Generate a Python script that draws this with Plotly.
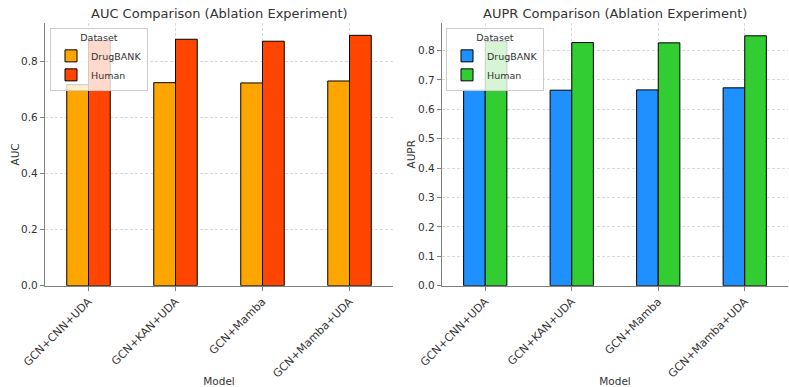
import plotly.graph_objects as go

models = ["GCN+CNN+UDA", "GCN+KAN+UDA", "GCN+Mamba", "GCN+Mamba+UDA"]
auc_drugbank = [0.718, 0.725, 0.724, 0.731]
auc_human = [0.875, 0.880, 0.873, 0.894]
aupr_drugbank = [0.665, 0.665, 0.666, 0.673]
aupr_human = [0.831, 0.827, 0.826, 0.850]
auc_ticks = [0.0, 0.2, 0.4, 0.6, 0.8]
aupr_ticks = [0.0, 0.1, 0.2, 0.3, 0.4, 0.5, 0.6, 0.7, 0.8]

W, H = 789, 387
FONT = "DejaVu Sans"
TXT = "#333333"

fig = go.Figure()
fig.add_trace(go.Bar(x=models, y=auc_drugbank, name="DrugBANK", marker=dict(color="#FFA500", line=dict(color="black", width=1)), xaxis="x", yaxis="y", legend="legend", offsetgroup="a"))
fig.add_trace(go.Bar(x=models, y=auc_human, name="Human", marker=dict(color="#FF4500", line=dict(color="black", width=1)), xaxis="x", yaxis="y", legend="legend", offsetgroup="b"))
fig.add_trace(go.Bar(x=models, y=aupr_drugbank, name="DrugBANK", marker=dict(color="#1E90FF", line=dict(color="black", width=1)), xaxis="x2", yaxis="y2", legend="legend2", offsetgroup="a"))
fig.add_trace(go.Bar(x=models, y=aupr_human, name="Human", marker=dict(color="#32CD32", line=dict(color="black", width=1)), xaxis="x2", yaxis="y2", legend="legend2", offsetgroup="b"))

def px_x(p):
    return p / W

def px_y(p):
    return 1 - p / H

y0, y1 = px_y(285.7), px_y(23.3)

common_x = dict(
    type="category", range=[-0.5, 3.5], tickangle=-45, automargin=False,
    showline=True, linecolor="#808080", linewidth=1.3,
    ticks="outside", ticklen=4, tickcolor="#808080",
    showgrid=True, gridcolor="#d9d9d9", griddash="3px,2px", gridwidth=0.8,
    tickfont=dict(family=FONT, size=11, color=TXT),
    title=dict(text="Model", font=dict(family=FONT, size=10.5, color=TXT), standoff=0),
    zeroline=False,
)
common_y = dict(
    showline=True, linecolor="#808080", linewidth=1.3, automargin=False,
    ticks="outside", ticklen=4, tickcolor="#808080",
    showgrid=True, gridcolor="#d9d9d9", griddash="3px,2px", gridwidth=0.8,
    tickfont=dict(family=FONT, size=10.5, color=TXT),
    zeroline=False, tickformat=".1f",
)

leg_common = dict(
    xanchor="left", yanchor="top",
    bgcolor="rgba(255,255,255,0.8)", bordercolor="#cccccc", borderwidth=1,
    font=dict(family=FONT, size=9.5, color=TXT),
    title=dict(text="Dataset", side="top center", font=dict(family=FONT, size=9.5, color=TXT)),
    itemwidth=30, tracegroupgap=0,
)

ymid = (y0 + y1) / 2
fig.update_layout(
    width=W, height=H,
    margin=dict(l=0, r=0, t=0, b=0),
    paper_bgcolor="white", plot_bgcolor="white",
    barmode="group", bargap=0.5, bargroupgap=0,
    font=dict(family=FONT, color=TXT),
    xaxis=dict(common_x, domain=[px_x(45), px_x(393)], anchor="y"),
    yaxis=dict(common_y, domain=[y0, y1], anchor="x", range=[0, 0.937], tickvals=auc_ticks),
    xaxis2=dict(common_x, domain=[px_x(442), px_x(788)], anchor="y2"),
    yaxis2=dict(common_y, domain=[y0, y1], anchor="x2", range=[0, 0.8925], tickvals=aupr_ticks),
    legend=dict(leg_common, x=px_x(50), y=px_y(28)),
    legend2=dict(leg_common, x=px_x(446), y=px_y(28)),
    annotations=[
        dict(text="AUC Comparison (Ablation Experiment)", x=(px_x(45) + px_x(393)) / 2, y=px_y(13),
             xref="paper", yref="paper", showarrow=False, xanchor="center", yanchor="middle",
             font=dict(family=FONT, size=13, color=TXT)),
        dict(text="AUPR Comparison (Ablation Experiment)", x=(px_x(442) + px_x(788)) / 2, y=px_y(13),
             xref="paper", yref="paper", showarrow=False, xanchor="center", yanchor="middle",
             font=dict(family=FONT, size=13, color=TXT)),
        dict(text="AUC", x=px_x(14), y=ymid, xref="paper", yref="paper", showarrow=False,
             textangle=-90, xanchor="center", yanchor="middle",
             font=dict(family=FONT, size=10.5, color=TXT)),
        dict(text="AUPR", x=px_x(410), y=ymid, xref="paper", yref="paper", showarrow=False,
             textangle=-90, xanchor="center", yanchor="middle",
             font=dict(family=FONT, size=10.5, color=TXT)),
    ],
)

fig.write_html("out.html", config={"displayModeBar": False},
               post_script="document.body.style.margin='0';document.body.style.overflow='hidden';")
